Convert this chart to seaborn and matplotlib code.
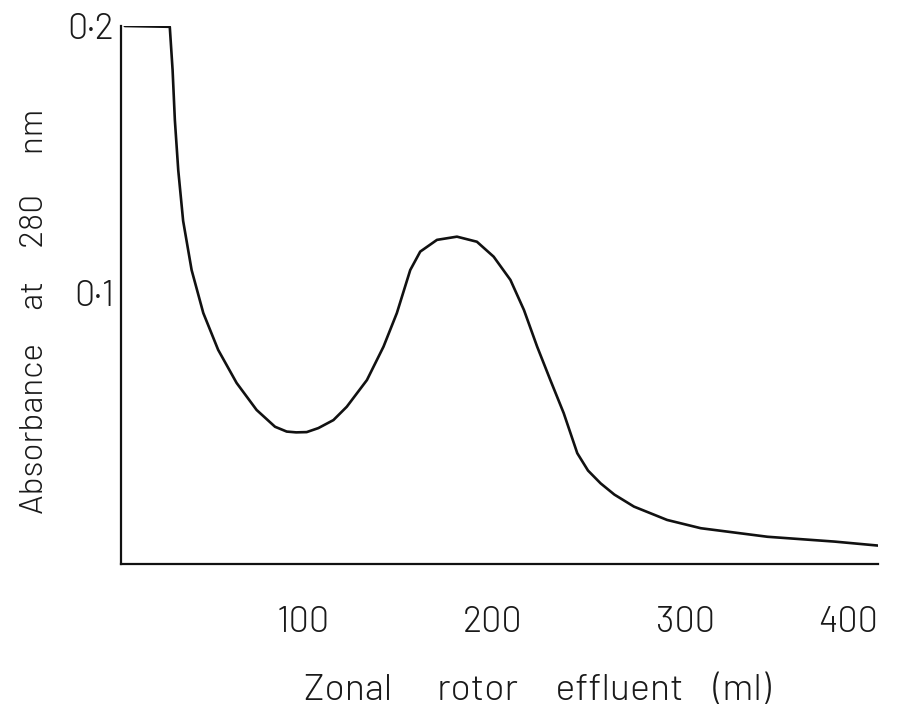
import matplotlib
matplotlib.use("Agg")
import matplotlib.pyplot as plt
import matplotlib.transforms as mtransforms
import seaborn as sns
import pandas as pd
from matplotlib import font_manager

sns.set_theme(style="white")

names = {f.name for f in font_manager.fontManager.ttflist}
if "Barlow" in names:
    plt.rcParams["font.family"] = ["Barlow", "DejaVu Sans"]
    TICK_FS, XLAB_FS, YLAB_FS, WEIGHT = 26, 27, 24, 300
    XLAB = "Zonal      rotor     effluent    (ml)"
    YLAB = "Absorbance     at     280      nm"
else:
    plt.rcParams["font.family"] = ["DejaVu Sans"]
    TICK_FS, XLAB_FS, YLAB_FS, WEIGHT = 19, 19, 18, "normal"
    XLAB = "Zonal    rotor   effluent   (ml)"
    YLAB = "Absorbance   at   280   nm"

# Data
effluent_ml = [0, 23.9, 25.4, 26.6, 28.4, 31.0, 35.5, 41.7, 49.6, 59.4, 70.0,
               79.8, 86.0, 91.0, 96.6, 102.8, 110.8, 117.9, 128.6, 137.4, 144.5,
               151.6, 156.9, 165.8, 176.4, 187.0, 195.9, 204.8, 212.0, 219.0,
               226.0, 233.1, 240.3, 246.0, 252.7, 260.0, 270.4, 288.0, 305.9,
               341.3, 376.8, 400.0]
absorbance = [0.2, 0.1997, 0.1835, 0.1648, 0.146, 0.127, 0.1086, 0.0925, 0.0787,
              0.0663, 0.0562, 0.0499, 0.0481, 0.0478, 0.0479, 0.0494, 0.0524,
              0.0574, 0.0674, 0.0799, 0.0925, 0.1086, 0.1155, 0.1199, 0.1211,
              0.1192, 0.1136, 0.1049, 0.0936, 0.0799, 0.0674, 0.055, 0.040,
              0.0335, 0.0287, 0.0245, 0.020, 0.015, 0.0119, 0.0087, 0.0069,
              0.0054]
x_ticks = [100, 200, 300, 400]
x_tick_labels = ["100", "200", "300", "400"]
y_ticks = [0.1, 0.2]
y_tick_labels = ["0·1", "0·2"]

df = pd.DataFrame({"Zonal rotor effluent (ml)": effluent_ml,
                   "Absorbance at 280 nm": absorbance})

fig = plt.figure(figsize=(9.04, 7.14), dpi=100)
L, R, T, B = 121, 878, 26, 564
ax = fig.add_axes([L / 904, 1 - B / 714, (R - L) / 904, (B - T) / 714])

sns.lineplot(data=df, x="Zonal rotor effluent (ml)", y="Absorbance at 280 nm",
             ax=ax, color="#111111", linewidth=1.9, estimator=None, sort=False)
ax.lines[0].set_solid_joinstyle("round")

ax.set_xlim(-2, 400)
ax.set_ylim(-0.0015, 0.2)
for s in ["top", "right"]:
    ax.spines[s].set_visible(False)
for s in ["left", "bottom"]:
    ax.spines[s].set_color("#111111")
    ax.spines[s].set_linewidth(1.6)

ax.set_xticks(x_ticks)
ax.set_xticklabels(x_tick_labels, fontweight=WEIGHT)
ax.set_yticks(y_ticks)
ax.set_yticklabels(y_tick_labels, fontweight=WEIGHT)
ax.tick_params(axis="both", direction="in", length=5, width=1.2, color="#111111",
               labelsize=TICK_FS, labelcolor="#1a1a1a")
ax.tick_params(axis="x", pad=30)
ax.tick_params(axis="y", pad=5)

# hand-lettered labels sit slightly left of their ticks
shifts = [-10, -9, -4, 0]
for lab, dx in zip(ax.get_xticklabels(), shifts):
    lab.set_transform(lab.get_transform() +
                      mtransforms.ScaledTranslation(dx / 100, 0, fig.dpi_scale_trans))
ax.get_xticklabels()[-1].set_horizontalalignment("right")

ax.set_xlabel(XLAB, fontsize=XLAB_FS, color="#1a1a1a", fontweight=WEIGHT, va="center")
ax.xaxis.set_label_coords((537 - L) / (R - L), (B - 690) / (B - T))
ax.set_ylabel(YLAB, fontsize=YLAB_FS, color="#1a1a1a", fontweight=WEIGHT, va="center")
ax.yaxis.set_label_coords((35 - L) / (R - L), (B - 311) / (B - T))
ax.grid(False)

fig.savefig("out.png", dpi=100, facecolor="white")
